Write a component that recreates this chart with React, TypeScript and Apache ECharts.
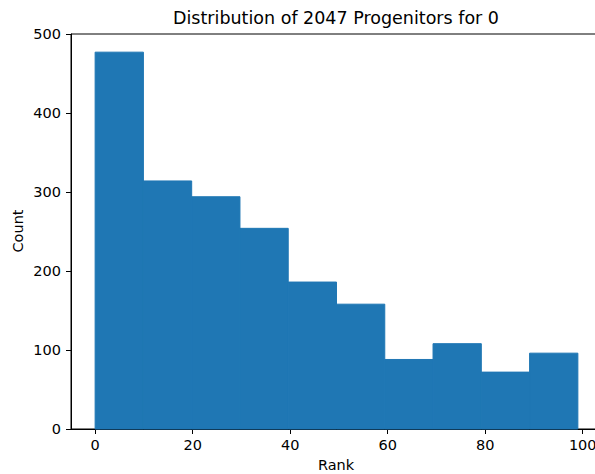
import React, { useEffect, useRef } from "react";
import * as echarts from "echarts";

const binEdges = [0, 9.9, 19.8, 29.7, 39.6, 49.5, 59.4, 69.3, 79.2, 89.1, 99];
const counts = [477, 314, 294, 254, 186, 158, 88, 108, 72, 96];
const xTicks = [0, 20, 40, 60, 80, 100];
const titleText = "Distribution of 2047 Progenitors for 0";
const xLabel = "Rank";
const yLabel = "Count";

export default function App() {
  const ref = useRef<HTMLDivElement>(null);
  useEffect(() => {
    document.body.style.margin = "0";
    document.body.style.overflow = "hidden";
    const chart = echarts.init(ref.current!, null, { renderer: "svg" });
    const data = counts.map((c, i) => [binEdges[i], binEdges[i + 1], c]);
    const font = "DejaVu Sans";
    chart.setOption({
      animation: false,
      backgroundColor: "#ffffff",
      grid: {
        left: 71,
        right: 0,
        top: 34,
        bottom: 45,
        show: true,
        borderColor: "#000",
        borderWidth: 1,
        backgroundColor: "transparent",
      },
      graphic: [
        {
          type: "text",
          x: 336,
          y: 18,
          style: {
            text: titleText,
            font: `17.5px "${font}"`,
            fill: "#000",
            textAlign: "center",
            textVerticalAlign: "middle",
          },
        },
        {
          type: "text",
          x: 336,
          y: 465,
          style: {
            text: xLabel,
            font: `14.5px "${font}"`,
            fill: "#000",
            textAlign: "center",
            textVerticalAlign: "middle",
          },
        },
        {
          type: "text",
          x: 18,
          y: 231,
          rotation: Math.PI / 2,
          style: {
            text: yLabel,
            font: `14.5px "${font}"`,
            fill: "#000",
            textAlign: "center",
            textVerticalAlign: "middle",
          },
        },
      ],
      xAxis: {
        type: "value",
        min: -4.95,
        max: 103.95,
        splitLine: { show: false },
        axisLine: { show: true, onZero: false, lineStyle: { color: "#000", width: 1 } },
        axisTick: {
          show: true,
          length: 5,
          customValues: xTicks,
          lineStyle: { color: "#000" },
        },
        axisLabel: {
          customValues: xTicks,
          color: "#000",
          fontFamily: font,
          fontSize: 14.5,
          margin: 8,
        },
      },
      yAxis: {
        type: "value",
        min: 0,
        max: 500,
        interval: 100,
        splitLine: { show: false },
        axisLine: { show: true, onZero: false, lineStyle: { color: "#000", width: 1 } },
        axisTick: { show: true, length: 5, lineStyle: { color: "#000" } },
        axisLabel: {
          color: "#000",
          fontFamily: font,
          fontSize: 14.5,
          margin: 10,
        },
      },
      series: [
        {
          type: "custom",
          data,
          encode: { x: [0, 1], y: 2 },
          renderItem: (params: any, api: any) => {
            const start = api.coord([api.value(0), api.value(2)]);
            const end = api.coord([api.value(1), 0]);
            return {
              type: "rect",
              shape: {
                x: start[0],
                y: start[1],
                width: end[0] - start[0],
                height: end[1] - start[1],
              },
              style: { fill: "#1f77b4", stroke: "#1f77b4", lineWidth: 1 },
            };
          },
        },
      ],
    });
    return () => chart.dispose();
  }, []);
  return <div ref={ref} style={{ width: 602, height: 474 }} />;
}
